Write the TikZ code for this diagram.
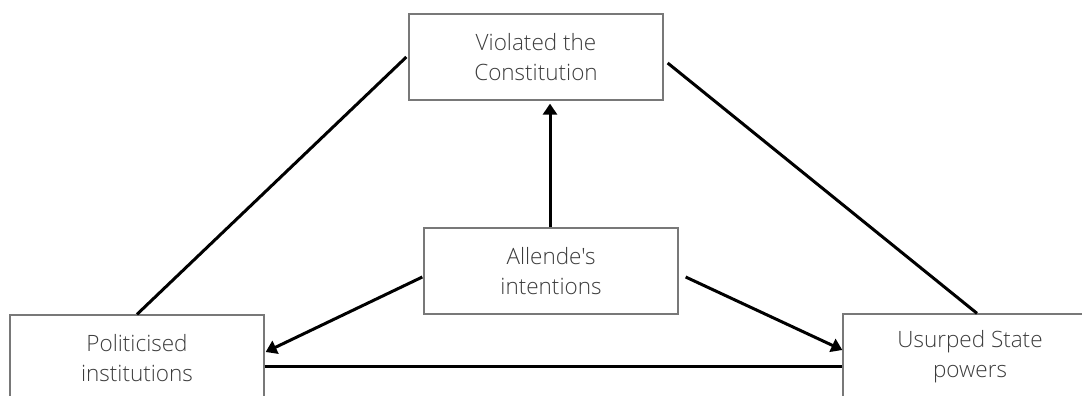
\documentclass[tikz,border=0pt]{standalone}
\usepackage{fontspec}
\IfFontExistsTF{Open Sans Light}
  {\setmainfont{Open Sans Light}[Ligatures=TeXOff]}
  {\setmainfont{Open Sans}[Ligatures=TeXOff]}
\usetikzlibrary{arrows.meta,calc}
\definecolor{boxline}{RGB}{120,120,120}
\definecolor{txt}{RGB}{60,60,60}
\tikzset{
  box/.style={draw=boxline, line width=1.3pt, minimum width=254pt, minimum height=86pt,
    inner sep=0pt, align=center, text=txt, font=\fontsize{22.5}{30}\selectfont},
  link/.style={line width=3pt, black},
  arr/.style={link, -{Triangle[length=11pt,width=14pt]}}
}
\begin{document}
\begin{tikzpicture}[x=1pt,y=1pt]
\useasboundingbox (0,0) rectangle (1082,-396);
\clip (0,0) rectangle (1082,-396);
\node[box] (top) at (536,-57) {Violated the\\Constitution};
\node[box] (mid) at (551,-271) {Allende's\\intentions};
\node[box] (left) at (137,-358) {Politicised\\institutions};
\node[box] (right) at (970,-357) {Usurped State\\powers};
\draw[link] ([xshift=-2pt]top.west) -- (left.north);
\draw[link] ([shift={(4pt,-6pt)}]top.east) -- ([xshift=7pt]right.north);
\draw[arr] ([xshift=-1pt]mid.north) -- ([shift={(-1pt,-3pt)}]mid.north |- top.south);
\draw[arr] ([shift={(-1pt,-6pt)}]mid.west) -- ([shift={(1pt,6pt)}]left.east);
\draw[arr] ([shift={(7pt,-6pt)}]mid.east) -- ([yshift=7pt]right.west);
\draw[link] ([yshift=-8pt]left.east) coordinate (h1) -- (h1 -| right.west);
\end{tikzpicture}
\end{document}
